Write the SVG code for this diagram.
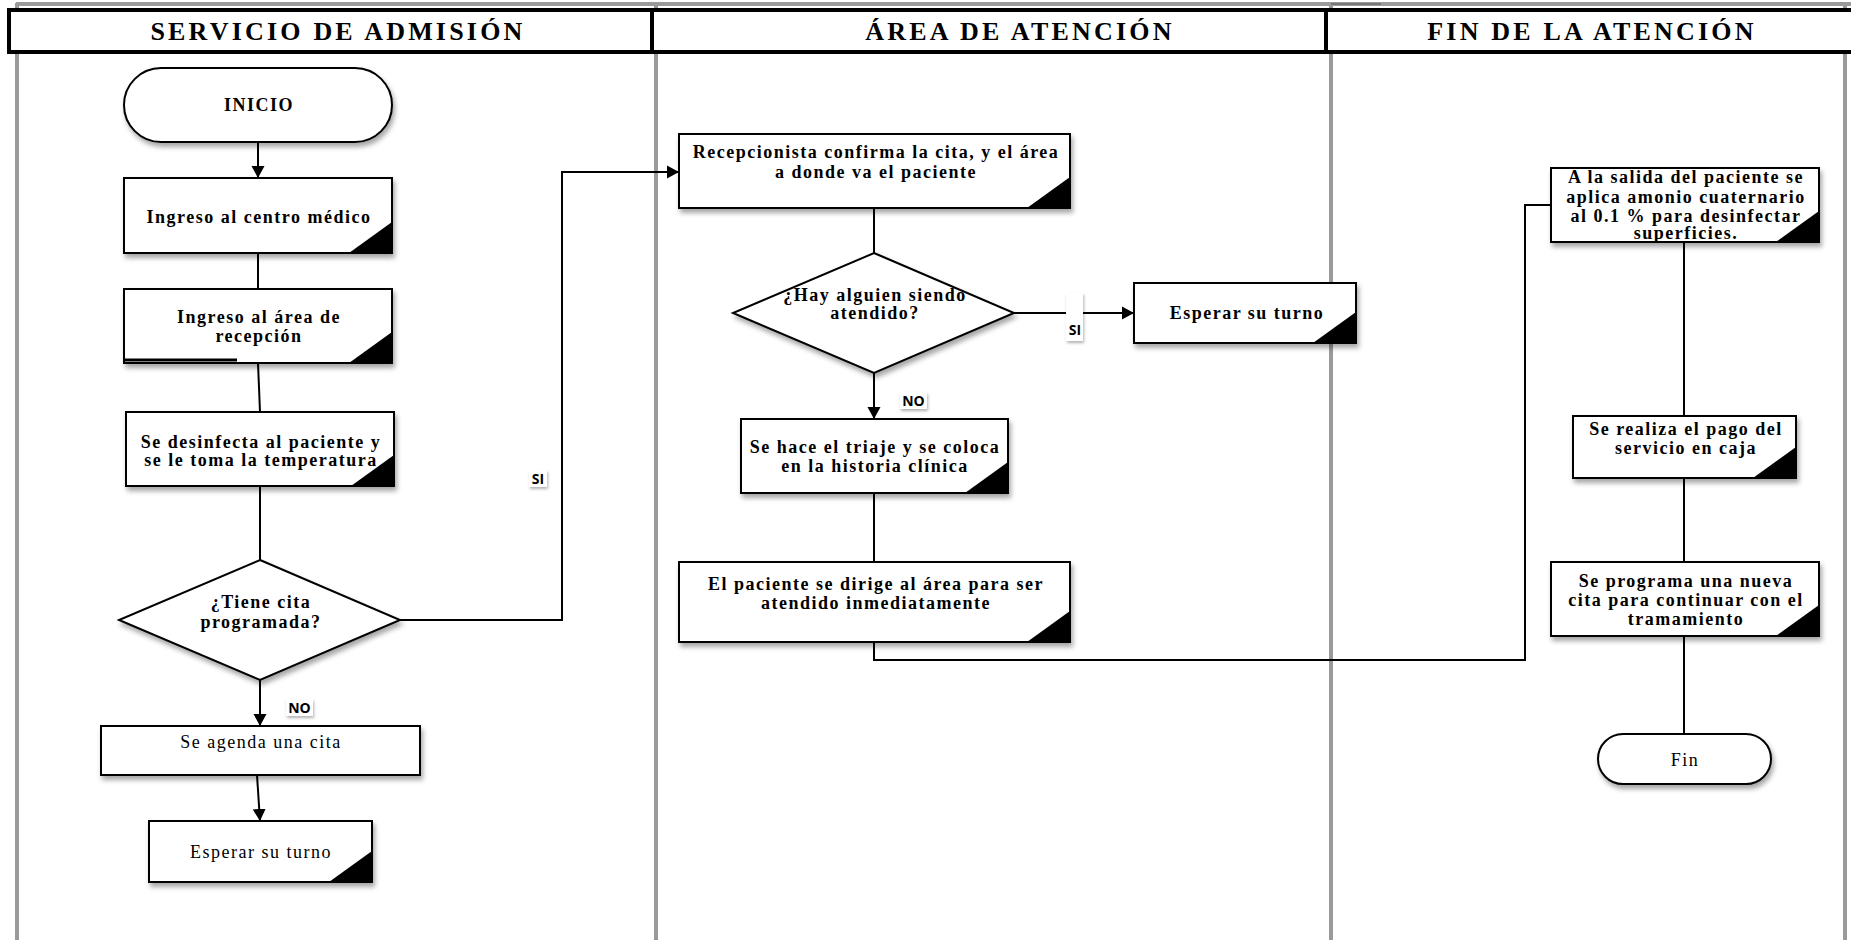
<svg xmlns="http://www.w3.org/2000/svg" width="1851" height="940" viewBox="0 0 1851 940">
<style>
.lane{stroke:#9a9a9a;stroke-width:4;fill:none}
.hdr{fill:#fff;stroke:#000;stroke-width:4}
.ht{font-family:"Liberation Serif",serif;font-weight:bold;font-size:26px;letter-spacing:3.2px;text-anchor:middle;fill:#000}
.box{fill:#fff;stroke:#000;stroke-width:2;filter:url(#sh)}
.t{font-family:"Liberation Serif",serif;font-weight:bold;font-size:18px;letter-spacing:1.5px;text-anchor:middle;fill:#000}
.r{font-weight:normal}
.c{fill:none;stroke:#000;stroke-width:2}
.lb{font-family:"Open Sans","Liberation Sans",sans-serif;font-weight:bold;font-size:14px;text-anchor:middle;fill:#000}
.lbg{fill:#fff;filter:url(#sh2)}
</style>
<defs>
<filter id="sh" x="-10%" y="-10%" width="130%" height="140%">
<feDropShadow dx="2" dy="4" stdDeviation="2.5" flood-color="#000" flood-opacity="0.35"/>
</filter>
<filter id="sh2" x="-30%" y="-30%" width="160%" height="180%">
<feDropShadow dx="1" dy="2" stdDeviation="1.5" flood-color="#000" flood-opacity="0.3"/>
</filter>
<marker id="ah" markerWidth="14" markerHeight="14" refX="12" refY="7" orient="auto" markerUnits="userSpaceOnUse">
<path d="M0,0.5 L12,7 L0,13.5 Z" fill="#000"/>
</marker>
<path id="corner" d="M0,0 L-43,0 L0,-31 Z" fill="#000"/>
</defs>
<rect width="1851" height="940" fill="#fff"/>

<g id="lanes">
<line class="lane" x1="16" y1="4" x2="1851" y2="4"/>
<line class="lane" x1="17" y1="3" x2="17" y2="940"/>
<line class="lane" x1="656" y1="3" x2="656" y2="940"/>
<line class="lane" x1="1331" y1="3" x2="1331" y2="940"/>
<line class="lane" x1="1845" y1="3" x2="1845" y2="940"/>
<line x1="1331" y1="4" x2="1381" y2="4" stroke="#777" stroke-width="2"/>
</g>

<g id="header">
<rect class="hdr" x="9" y="10" width="1850" height="42"/>
<line x1="652" y1="10" x2="652" y2="52" stroke="#000" stroke-width="4"/>
<line x1="1326" y1="10" x2="1326" y2="52" stroke="#000" stroke-width="4"/>
<text class="ht" x="338" y="40">SERVICIO DE ADMISIÓN</text>
<text class="ht" x="1020" y="40">ÁREA DE ATENCIÓN</text>
<text class="ht" x="1592" y="40">FIN DE LA ATENCIÓN</text>
</g>

<g id="connectors">
<path class="c" d="M258,142 V178" marker-end="url(#ah)"/>
<path class="c" d="M258,253 V289"/>
<path class="c" d="M258,363 L260,412"/>
<path class="c" d="M260,486 V560"/>
<path class="c" d="M260,680 V726" marker-end="url(#ah)"/>
<path class="c" d="M257,775 L260,821" marker-end="url(#ah)"/>
<path class="c" d="M400,620 H562 V172 H679" marker-end="url(#ah)"/>
<path class="c" d="M874,208 V253"/>
<path class="c" d="M1014,313 H1134" marker-end="url(#ah)"/>
<path class="c" d="M874,373 V419" marker-end="url(#ah)"/>
<path class="c" d="M874,493 V562"/>
<path class="c" d="M874,642 V660 H1525 V205 H1551"/>
<path class="c" d="M1684,242 V416"/>
<path class="c" d="M1684,478 V562"/>
<path class="c" d="M1684,636 V734"/>
<g id="label-no-1"><rect class="lbg" x="286" y="699" width="27" height="17"/><text class="lb" x="299.5" y="713">NO</text></g>
<g id="label-si-1"><rect class="lbg" x="529" y="470" width="18" height="17"/><text class="lb" x="538" y="484">SI</text></g>
<g id="label-no-2"><rect class="lbg" x="900" y="392" width="27" height="17"/><text class="lb" x="913.5" y="406">NO</text></g>
<g id="label-si-2"><rect class="lbg" x="1066" y="293" width="17" height="48"/><text class="lb" x="1075" y="335">SI</text></g>
</g>

<g id="inicio">
<rect class="box" x="124" y="68" width="268" height="74" rx="37" ry="37"/>
<text class="t" x="259" y="111">INICIO</text>
</g>

<g id="ingreso-centro">
<rect class="box" x="124" y="178" width="268" height="75"/>
<use href="#corner" x="392" y="253"/>
<text class="t" x="259" y="223">Ingreso al centro médico</text>
</g>

<g id="ingreso-recepcion">
<rect class="box" x="124" y="289" width="268" height="74"/>
<use href="#corner" x="392" y="363"/>
<line x1="125" y1="360" x2="237" y2="360" stroke="#000" stroke-width="3"/>
<text class="t" x="259" y="323">Ingreso al área de</text>
<text class="t" x="259" y="342">recepción</text>
</g>

<g id="desinfecta">
<rect class="box" x="126" y="412" width="268" height="74"/>
<use href="#corner" x="394" y="486"/>
<text class="t" x="261" y="448">Se desinfecta al paciente y</text>
<text class="t" x="261" y="466">se le toma la temperatura</text>
</g>

<g id="tiene-cita">
<path class="box" d="M260,560 L400,620 L260,680 L119,620 Z"/>
<text class="t" x="261" y="608">¿Tiene cita</text>
<text class="t" x="261" y="628">programada?</text>
</g>

<g id="agenda-cita">
<rect class="box" x="101" y="726" width="319" height="49"/>
<text class="t r" x="261" y="748">Se agenda una cita</text>
</g>

<g id="esperar-1">
<rect class="box" x="149" y="821" width="223" height="61"/>
<use href="#corner" x="372" y="882"/>
<text class="t r" x="261" y="858">Esperar su turno</text>
</g>

<g id="recepcionista">
<rect class="box" x="679" y="134" width="391" height="74"/>
<use href="#corner" x="1070" y="208"/>
<text class="t" x="876" y="158">Recepcionista confirma la cita, y el área</text>
<text class="t" x="876" y="178">a donde va el paciente</text>
</g>

<g id="hay-alguien">
<path class="box" d="M874,253 L1014,313 L874,373 L733,313 Z"/>
<text class="t" x="875" y="301">¿Hay alguien siendo</text>
<text class="t" x="875" y="319">atendido?</text>
</g>

<g id="esperar-2">
<rect class="box" x="1134" y="283" width="222" height="60"/>
<use href="#corner" x="1356" y="343"/>
<text class="t" x="1247" y="319">Esperar su turno</text>
</g>

<g id="triaje">
<rect class="box" x="741" y="419" width="267" height="74"/>
<use href="#corner" x="1008" y="493"/>
<text class="t" x="875" y="453">Se hace el triaje y se coloca</text>
<text class="t" x="875" y="472">en la historia clínica</text>
</g>

<g id="paciente-dirige">
<rect class="box" x="679" y="562" width="391" height="80"/>
<use href="#corner" x="1070" y="642"/>
<text class="t" x="876" y="590">El paciente se dirige al área para ser</text>
<text class="t" x="876" y="609">atendido inmediatamente</text>
</g>

<g id="salida">
<rect class="box" x="1551" y="168" width="268" height="74"/>
<use href="#corner" x="1819" y="242"/>
<text class="t" x="1686" y="183">A la salida del paciente se</text>
<text class="t" x="1686" y="203">aplica amonio cuaternario</text>
<text class="t" x="1686" y="222">al 0.1 % para desinfectar</text>
<text class="t" x="1686" y="239">superficies.</text>
</g>

<g id="pago">
<rect class="box" x="1573" y="416" width="223" height="62"/>
<use href="#corner" x="1796" y="478"/>
<text class="t" x="1686" y="435">Se realiza el pago del</text>
<text class="t" x="1686" y="454">servicio en caja</text>
</g>

<g id="nueva-cita">
<rect class="box" x="1551" y="562" width="268" height="74"/>
<use href="#corner" x="1819" y="636"/>
<text class="t" x="1686" y="587">Se programa una nueva</text>
<text class="t" x="1686" y="606">cita para continuar con el</text>
<text class="t" x="1686" y="625">tramamiento</text>
</g>

<g id="fin">
<rect class="box" x="1598" y="734" width="173" height="50" rx="25" ry="25"/>
<text class="t r" x="1685" y="766">Fin</text>
</g>
</svg>
